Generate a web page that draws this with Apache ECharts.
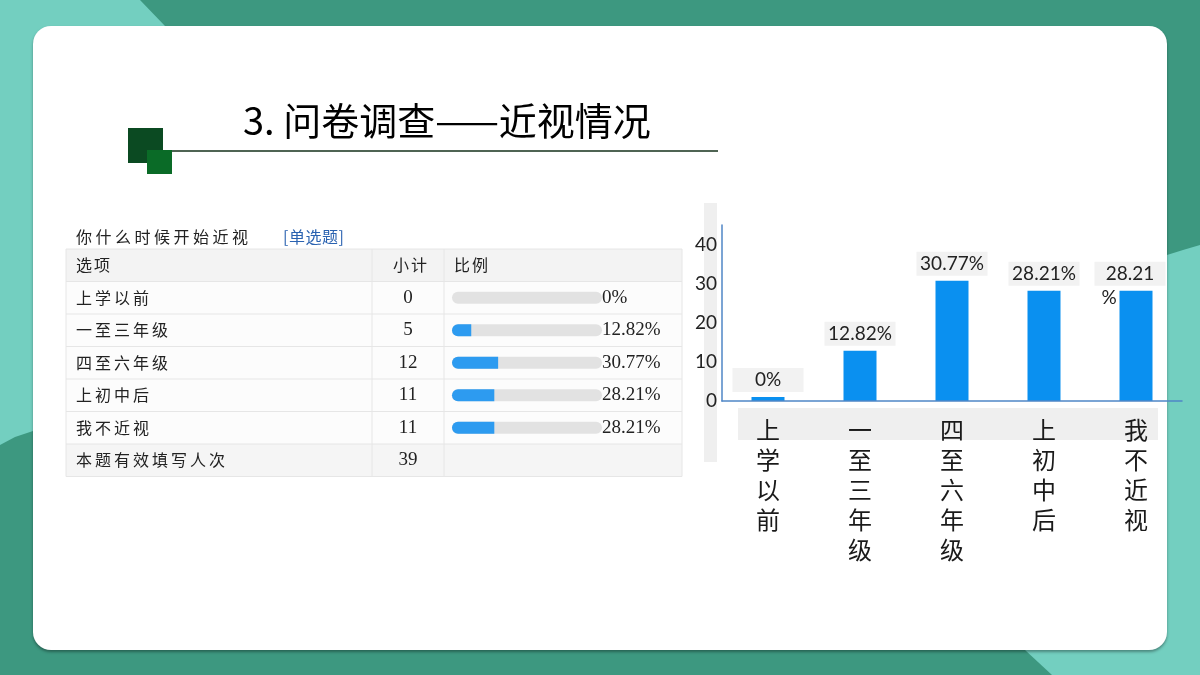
<!DOCTYPE html>
<html>
<head>
<meta charset="utf-8">
<script src="https://cdn.jsdelivr.net/npm/echarts@6/dist/echarts.min.js"></script>
<style>
html,body{margin:0;padding:0;background:#3d9880;}
#main{width:1200px;height:675px;}
</style>
</head>
<body>
<div id="main"></div>
<script>
// ---- data ----
const pageTitle = '3. 问卷调查——近视情况';
const question = '你什么时候开始近视';
const questionType = '[单选题]';
const headers = ['选项', '小计', '比例'];
const categories = ['上学以前', '一至三年级', '四至六年级', '上初中后', '我不近视'];
const counts = [0, 5, 12, 11, 11];
const percents = [0, 12.82, 30.77, 28.21, 28.21];
const totalLabel = '本题有效填写人次';
const totalCount = 39;
const barLabels = ['0%', '12.82%', '30.77%', '28.21%', '28.21\n%'];
const yMin = 0, yMax = 45, yInterval = 10;

// ---- layout constants ----
const T = { x0: 66, x1: 372, x2: 444, x3: 682, top: 249, rowH: 32.5 };
const cnFont = '"Noto Sans CJK SC", sans-serif';
const serifFont = '"Liberation Serif", "DejaVu Serif", serif';

// letter-spaced Chinese text via rich tokens
function spacedText(x, y, text, size, gap, color) {
  return {
    type: 'text', z: 5, x: x, y: y,
    style: {
      text: text.split('').map(ch => '{s|' + ch + '}').join(''),
      verticalAlign: 'middle', align: 'left',
      rich: { s: { fontSize: size, fontFamily: cnFont, fill: color, padding: [0, gap, 0, 0] } }
    }
  };
}

const chart = echarts.init(document.getElementById('main'));
const g = [];

// background shapes
g.push({ type: 'rect', z: -40, shape: { x: 0, y: 0, width: 1200, height: 675 }, style: { fill: '#3d9880' } });
g.push({ type: 'polygon', z: -39, shape: { points: [[0,0],[140,0],[165,26],[170,60],[60,428],[33,431],[15,437],[0,445]] }, style: { fill: '#73cfc0' } });
g.push({ type: 'polygon', z: -39, shape: { points: [[1200,245],[1183,250],[1167,255],[1100,300],[1025,650],[1052,675],[1200,675]] }, style: { fill: '#73cfc0' } });
// card
g.push({ type: 'rect', z: -30, shape: { x: 33, y: 26, width: 1134, height: 624, r: 18 }, style: { fill: '#ffffff', shadowColor: 'rgba(0,0,0,0.35)', shadowBlur: 3, shadowOffsetY: 2 } });

// title decoration
g.push({ type: 'rect', z: 5, shape: { x: 128, y: 128, width: 35, height: 35 }, style: { fill: '#0b4a22' } });
g.push({ type: 'rect', z: 6, shape: { x: 147, y: 150, width: 25, height: 24 }, style: { fill: '#0a6b27' } });
g.push({ type: 'line', z: 5, shape: { x1: 172, y1: 151, x2: 718, y2: 151 }, style: { stroke: '#14301a', lineWidth: 1.5 } });
g.push({ type: 'text', z: 5, x: 243, y: 121, style: { text: pageTitle, font: '38px ' + cnFont, fill: '#000', align: 'left', verticalAlign: 'middle' } });

// gray bands behind axes
g.push({ type: 'rect', z: -10, shape: { x: 704, y: 203, width: 13, height: 259 }, style: { fill: '#efefef' } });
g.push({ type: 'rect', z: -10, shape: { x: 738, y: 408, width: 420, height: 32 }, style: { fill: '#efefef' } });

// table
g.push(spacedText(76, 237, question, 16, 3.5, '#222'));
g.push(spacedText(283, 237, questionType, 16, 0.5, '#2a62b0'));
const nRows = categories.length + 2;
for (let r = 0; r < nRows; r++) {
  const y = T.top + r * T.rowH;
  const fill = (r === 0) ? '#f3f3f3' : (r === nRows - 1 ? '#f5f5f5' : '#fcfcfc');
  g.push({ type: 'rect', z: -5, shape: { x: T.x0, y: y, width: T.x3 - T.x0, height: T.rowH }, style: { fill: fill } });
}
for (let r = 0; r <= nRows; r++) {
  const y = T.top + r * T.rowH;
  g.push({ type: 'line', z: -4, shape: { x1: T.x0, y1: y, x2: T.x3, y2: y }, style: { stroke: '#e6e6e6', lineWidth: 1 } });
}
[T.x0, T.x1, T.x2, T.x3].forEach(x => {
  g.push({ type: 'line', z: -4, shape: { x1: x, y1: T.top, x2: x, y2: T.top + nRows * T.rowH }, style: { stroke: '#e6e6e6', lineWidth: 1 } });
});
function cy(r) { return T.top + r * T.rowH + T.rowH / 2; }
g.push(spacedText(76, cy(0), headers[0], 16, 2, '#222'));
g.push(spacedText(393, cy(0), headers[1], 16, 2, '#222'));
g.push(spacedText(454, cy(0), headers[2], 16, 2, '#222'));
categories.forEach((c, i) => {
  const y = cy(i + 1);
  g.push(spacedText(76, y, c, 16, 3, '#222'));
  g.push({ type: 'text', z: 5, x: (T.x1 + T.x2) / 2, y: y, style: { text: String(counts[i]), font: '19px ' + serifFont, fill: '#222', align: 'center', verticalAlign: 'middle' } });
  g.push({ type: 'text', z: 5, x: 602, y: y, style: { text: percents[i] + '%', font: '19px ' + serifFont, fill: '#222', verticalAlign: 'middle' } });
});
g.push(spacedText(76, cy(nRows - 1), totalLabel, 16, 3, '#222'));
g.push({ type: 'text', z: 5, x: (T.x1 + T.x2) / 2, y: cy(nRows - 1), style: { text: String(totalCount), font: '19px ' + serifFont, fill: '#222', align: 'center', verticalAlign: 'middle' } });

// bar data with label styling
const barData = percents.map((v, i) => {
  const parts = barLabels[i].split('\n');
  const item = { value: v, label: { formatter: parts.length > 1 ? '{a|' + parts[0] + '}\n{b|' + parts[1] + '}' : '{a|' + parts[0] + '}' } };
  if (parts.length > 1) item.label.offset = [-6, 24];
  return item;
});

const option = {
  animation: false,
  graphic: { elements: g },
  grid: [
    { left: 722, right: 18, top: 225, bottom: 274, containLabel: false },
    { left: 452, top: T.top + T.rowH, width: 150, height: T.rowH * categories.length }
  ],
  xAxis: [
    {
      gridIndex: 0, type: 'category', data: categories, z: 3,
      axisLine: { show: true, lineStyle: { color: '#4f86c6', width: 1.5 } },
      axisTick: { show: false },
      axisLabel: {
        interval: 0, margin: 14, color: '#1a1a1a', fontSize: 24, lineHeight: 30,
        fontFamily: '"Noto Sans CJK SC", sans-serif', verticalAlign: 'top',
        formatter: v => v.split('').join('\n')
      }
    },
    { gridIndex: 1, type: 'value', min: 0, max: 100, show: false }
  ],
  yAxis: [
    {
      gridIndex: 0, type: 'value', min: yMin, max: yMax, interval: yInterval, z: 3,
      axisLine: { show: true, lineStyle: { color: '#4f86c6', width: 1.5 } },
      axisTick: { show: false },
      splitLine: { show: false },
      axisLabel: { color: '#222', fontSize: 19, fontFamily: 'Lato, sans-serif', margin: 5, showMaxLabel: false }
    },
    { gridIndex: 1, type: 'category', data: categories, inverse: true, show: false }
  ],
  series: [
    {
      type: 'bar', xAxisIndex: 0, yAxisIndex: 0, data: barData, barWidth: 33, barMinHeight: 4,
      itemStyle: { color: '#0a90f0' },
      label: {
        show: true, position: 'top', distance: 5,
        rich: {
          a: { backgroundColor: '#f2f2f2', width: 71, height: 24, lineHeight: 24, align: 'center', fontSize: 19, fontFamily: 'Lato, sans-serif', color: '#222' },
          b: { width: 71, height: 24, lineHeight: 24, align: 'left', padding: [0, 0, 0, 14], fontSize: 19, fontFamily: 'Lato, sans-serif', color: '#222' }
        }
      }
    },
    {
      type: 'bar', xAxisIndex: 1, yAxisIndex: 1, data: percents, barWidth: 12,
      showBackground: true,
      backgroundStyle: { color: '#e2e2e2', borderRadius: 6 },
      itemStyle: { color: '#2d9bf0', borderRadius: [6, 0, 0, 6] }
    }
  ]
};
chart.setOption(option);
</script>
</body>
</html>
